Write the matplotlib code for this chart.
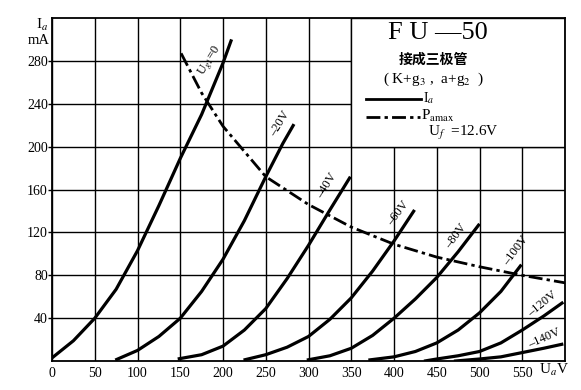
import matplotlib
matplotlib.use("Agg")
import matplotlib.pyplot as plt
from matplotlib.patches import Rectangle

plt.rcParams['font.family'] = ['Liberation Serif', 'Noto Sans CJK SC', 'DejaVu Sans']
plt.rcParams['mathtext.fontset'] = 'stix'

# anode characteristics, Ua (V) -> Ia (mA), one pair per grid voltage
ug0_ua = [0, 25, 50, 75, 100, 125, 150, 175, 200, 210]
ug0_ia = [3, 19, 40, 67, 103, 145, 189, 230, 278, 300]
ug20_ua = [74, 100, 125, 150, 175, 200, 225, 250, 270, 283]
ug20_ia = [1, 10, 23, 40, 65, 95, 131, 172, 203, 221]
ug40_ua = [147, 175, 200, 225, 250, 275, 300, 325, 349]
ug40_ia = [2, 6, 14, 29, 49, 77, 108, 141, 172]
ug60_ua = [224, 250, 275, 300, 325, 350, 375, 400, 424]
ug60_ia = [1, 6, 13, 23, 39, 59, 84, 112, 141]
ug80_ua = [298, 325, 350, 375, 400, 425, 450, 475, 500]
ug80_ia = [1, 5, 12, 24, 40, 58, 78, 102, 128]
ug100_ua = [370, 400, 425, 450, 475, 500, 525, 549]
ug100_ia = [1, 4, 9, 17, 29, 45, 65, 90]
ug120_ua = [435, 450, 475, 500, 525, 550, 575, 598]
ug120_ia = [0, 2, 5, 9, 17, 29, 42, 55]
ug140_ua = [470, 500, 525, 550, 575, 598]
ug140_ia = [0, 2, 4, 8, 12, 16]

# max plate dissipation curve
pa_ua = [151, 175, 200, 250, 300, 350, 400, 450, 500, 550, 600]
pa_ia = [287, 250, 219, 172, 146, 125, 109, 97, 88, 80, 73]

curves = [(ug0_ua, ug0_ia), (ug20_ua, ug20_ia), (ug40_ua, ug40_ia),
          (ug60_ua, ug60_ia), (ug80_ua, ug80_ia), (ug100_ua, ug100_ia),
          (ug120_ua, ug120_ia), (ug140_ua, ug140_ia)]

# curve labels: text, position (Ua, Ia), angle
labels = [("U$_{g1}$=0", 185, 280, 58), ("–20V", 266, 221, 58),
          ("–40V", 322, 164, 58), ("–60V", 405, 138, 52),
          ("–80V", 473, 117, 53), ("–100V", 542, 103, 53),
          ("–120V", 574, 53, 39), ("–140V", 576, 21, 24)]

xticks = list(range(0, 551, 50))
yticks = list(range(40, 281, 40))

fig = plt.figure(figsize=(5.81, 3.90), dpi=100)
ax = fig.add_axes([0.0895, 0.074, 0.883, 0.88])

ax.set_xlim(0, 600)
ax.set_ylim(0, 320)
ax.set_xticks(xticks)
ax.set_xticklabels([str(v) for v in xticks], fontsize=10)
ax.set_yticks(yticks)
ax.set_yticklabels([str(v) for v in yticks], fontsize=10)
ax.tick_params(axis='x', length=0, pad=4)
ax.tick_params(axis='y', length=3, width=1, pad=0)
ax.set_axisbelow(True)
ax.grid(True, color='black', linewidth=1.0)
for s in ax.spines.values():
    s.set_linewidth(1.3)

# legend box covers the grid in the upper right
ax.add_patch(Rectangle((350, 200), 250, 120, facecolor='white',
                       edgecolor='black', linewidth=1.0, zorder=1))

for ua, ia in curves:
    ax.plot(ua, ia, color='black', linewidth=2.3, solid_capstyle='butt', zorder=3)

ax.plot(pa_ua, pa_ia, color='black', linewidth=2.0,
        dashes=(5, 1.5, 1.2, 1.5), zorder=3)

for txt, x, y, ang in labels:
    ax.text(x, y, txt, rotation=ang, rotation_mode='anchor', ha='center',
            va='center', fontsize=9, zorder=4)

# legend content
ax.text(451, 306, "F U —50", fontsize=19, ha='center', va='center', zorder=4)
ax.text(446, 281.5, "接成三极管", fontsize=10, ha='center', va='center',
        family=['Noto Sans CJK SC'], fontweight='bold', zorder=4)
ax.text(446, 263, "( K+g$_3$ ,  a+g$_2$  )", fontsize=11, ha='center',
        va='center', zorder=4)
ax.plot([367, 431], [244, 244], color='black', linewidth=2.0, zorder=4)
ax.text(434, 245, "I$_a$", fontsize=10, ha='left', va='center', zorder=4)
ax.plot([367, 430], [228, 228], color='black', linewidth=2.0,
        dashes=(5, 1.5, 1.2, 1.5), zorder=4)
ax.text(431, 229, "P$_{\\rm amax}$", fontsize=11, ha='left', va='center', zorder=4)
ax.text(440, 213, "U$_f$  =12.6V", fontsize=11, ha='left', va='center', zorder=4)

# axis titles
fig.text(0.072, 0.936, "I$_a$", fontsize=11, ha='center', va='center')
fig.text(0.066, 0.895, "mA", fontsize=10.5, ha='center', va='center')
fig.text(0.953, 0.051, "U$_a$V", fontsize=11, ha='center', va='center')

fig.savefig("out.png", dpi=100)
